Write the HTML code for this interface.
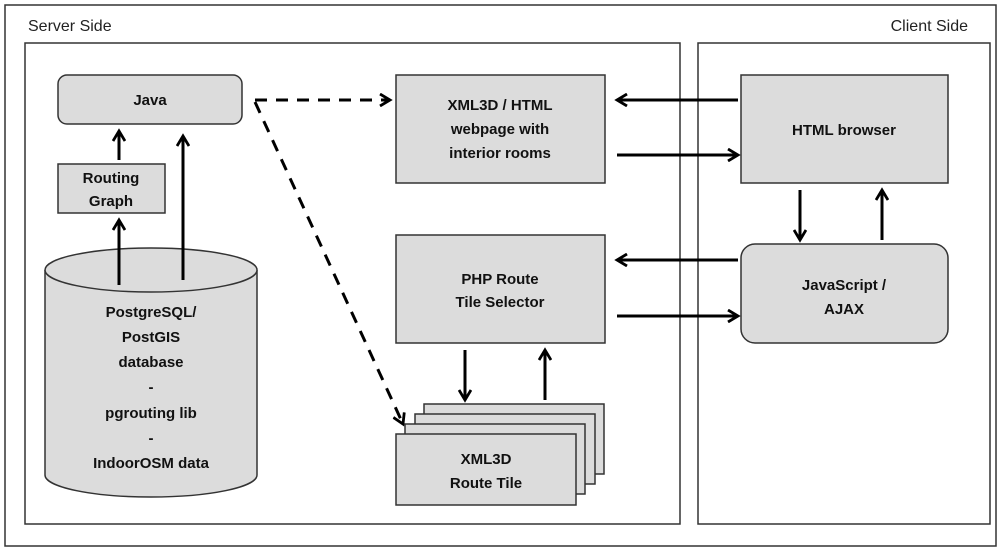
<!DOCTYPE html>
<html><head><meta charset="utf-8"><style>
body{margin:0;background:#fff;}
svg text{font-family:"Liberation Sans",sans-serif;}
.b{font-weight:bold;font-size:15px;fill:#111;text-anchor:middle;}
</style></head><body>
<svg width="1000" height="551" viewBox="0 0 1000 551" xmlns="http://www.w3.org/2000/svg">
<defs>
<marker id="a" markerWidth="14" markerHeight="14" refX="11" refY="7" orient="auto" markerUnits="userSpaceOnUse">
<path d="M1,1 L11,7 L1,13" fill="none" stroke="#000" stroke-width="2.8"/>
</marker>
</defs>
<rect x="5" y="5" width="991" height="541" fill="#fff" stroke="#333" stroke-width="1.5"/>
<text x="28" y="31" font-size="16" fill="#222">Server Side</text>
<text x="968" y="31" font-size="16" fill="#222" text-anchor="end">Client Side</text>
<rect x="25" y="43" width="655" height="481" fill="#fff" stroke="#333" stroke-width="1.5"/>
<rect x="698" y="43" width="292" height="481" fill="#fff" stroke="#333" stroke-width="1.5"/>

<g fill="#dcdcdc" stroke="#333" stroke-width="1.5">
<rect x="58" y="75" width="184" height="49" rx="9"/>
<rect x="58" y="164" width="107" height="49"/>
<path d="M45,270 L45,475 A106,22 0 0 0 257,475 L257,270"/>
<ellipse cx="151" cy="270" rx="106" ry="22"/>
<rect x="396" y="75" width="209" height="108"/>
<rect x="396" y="235" width="209" height="108"/>
<rect x="741" y="75" width="207" height="108"/>
<rect x="741" y="244" width="207" height="99" rx="14"/>
<rect x="424" y="404" width="180" height="70"/>
<rect x="415" y="414" width="180" height="70"/>
<rect x="405" y="424" width="180" height="70"/>
<rect x="396" y="434" width="180" height="71"/>
</g>

<text class="b" x="150" y="105">Java</text>
<text class="b" x="111" y="183">Routing</text>
<text class="b" x="111" y="206">Graph</text>
<text class="b" x="151" y="317">PostgreSQL/</text>
<text class="b" x="151" y="342">PostGIS</text>
<text class="b" x="151" y="367">database</text>
<text class="b" x="151" y="392">-</text>
<text class="b" x="151" y="418">pgrouting lib</text>
<text class="b" x="151" y="443">-</text>
<text class="b" x="151" y="468">IndoorOSM data</text>
<text class="b" x="500" y="110">XML3D / HTML</text>
<text class="b" x="500" y="134">webpage with</text>
<text class="b" x="500" y="158">interior rooms</text>
<text class="b" x="500" y="284">PHP Route</text>
<text class="b" x="500" y="307">Tile Selector</text>
<text class="b" x="844" y="135">HTML browser</text>
<text class="b" x="844" y="290">JavaScript /</text>
<text class="b" x="844" y="314">AJAX</text>
<text class="b" x="486" y="464">XML3D</text>
<text class="b" x="486" y="488">Route Tile</text>

<g stroke="#000" stroke-width="3" fill="none" marker-end="url(#a)">
<line x1="119" y1="160" x2="119" y2="131"/>
<line x1="119" y1="285" x2="119" y2="220"/>
<line x1="183" y1="280" x2="183" y2="136"/>
<line x1="738" y1="100" x2="617" y2="100"/>
<line x1="617" y1="155" x2="738" y2="155"/>
<line x1="738" y1="260" x2="617" y2="260"/>
<line x1="617" y1="316" x2="738" y2="316"/>
<line x1="800" y1="190" x2="800" y2="240"/>
<line x1="882" y1="240" x2="882" y2="190"/>
<line x1="465" y1="350" x2="465" y2="400"/>
<line x1="545" y1="400" x2="545" y2="350"/>
<line x1="255" y1="100" x2="390" y2="100" stroke-dasharray="12,9"/>
<line x1="255" y1="102" x2="403" y2="424" stroke-dasharray="12,9"/>
</g>
</svg>
</body></html>
